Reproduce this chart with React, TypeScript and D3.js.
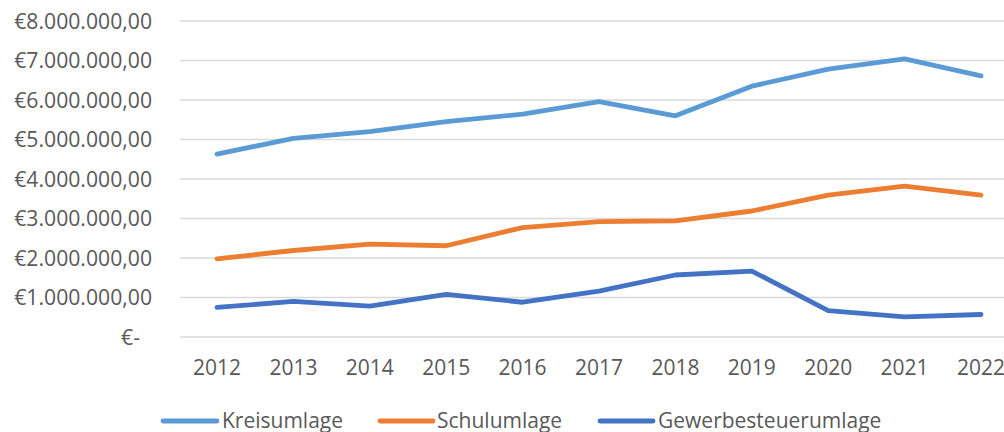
import React from "react";
import * as d3 from "d3";

const years = ["2012","2013","2014","2015","2016","2017","2018","2019","2020","2021","2022"];
const kreisumlage = [4630000,5030000,5200000,5450000,5640000,5960000,5600000,6350000,6780000,7040000,6610000];
const schulumlage = [1980000,2190000,2350000,2310000,2770000,2920000,2940000,3190000,3590000,3820000,3590000];
const gewerbesteuerumlage = [750000,900000,780000,1080000,880000,1160000,1570000,1670000,670000,510000,570000];
const yTicks = [0,1000000,2000000,3000000,4000000,5000000,6000000,7000000,8000000];
const seriesNames = ["Kreisumlage","Schulumlage","Gewerbesteuerumlage"];
const seriesColors = ["#5B9BD5","#ED7D31","#4472C4"];

const W = 1004, H = 432;
const FONT = "'Open Sans', sans-serif";

function fmt(v: number) {
  if (v === 0) return "€-";
  const m = Math.round(v / 1000000);
  return "€" + m + ".000.000,00";
}

export default function App() {
  const x = d3.scalePoint<string>().domain(years).range([217, 981]);
  const y = d3.scaleLinear().domain([0, 8000000]).range([337, 21]);
  const line = d3.line<number>().x((_, i) => x(years[i]) as number).y(d => y(d));
  const all = [kreisumlage, schulumlage, gewerbesteuerumlage];
  const legendPos = [
    { x0: 163, x1: 217, tx: 222 },
    { x0: 380, x1: 433, tx: 437 },
    { x0: 600, x1: 653, tx: 658 },
  ];
  return (
    <svg width={W} height={H} style={{ position: "absolute", left: 0, top: 0, background: "#fff" }} fontFamily={FONT}>
      <rect width={W} height={H} fill="#fff" />
      {yTicks.map(t => (
        <g key={t}>
          <line x1={180} x2={1004} y1={y(t)} y2={y(t)} stroke="#d9d9d9" strokeWidth={1.3} />
          <text x={t === 0 ? 140 : 152} y={y(t) + 7.5} textAnchor="end" fontSize={21.2} fill="#595959">{fmt(t)}</text>
        </g>
      ))}
      {years.map(yr => (
        <text key={yr} x={x(yr)} y={375} textAnchor="middle" fontSize={21} fill="#595959">{yr}</text>
      ))}
      {all.map((s, i) => (
        <path key={i} d={line(s) || ""} fill="none" stroke={seriesColors[i]} strokeWidth={4.8} strokeLinecap="round" strokeLinejoin="round" />
      ))}
      {seriesNames.map((n, i) => (
        <g key={n}>
          <line x1={legendPos[i].x0} x2={legendPos[i].x1} y1={421} y2={421} stroke={seriesColors[i]} strokeWidth={4.8} strokeLinecap="round" />
          <text x={legendPos[i].tx} y={428} fontSize={21} fill="#595959">{n}</text>
        </g>
      ))}
    </svg>
  );
}
